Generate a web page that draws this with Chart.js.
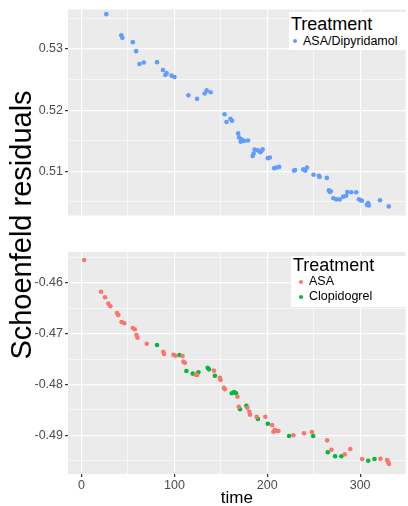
<!DOCTYPE html>
<html>
<head>
<meta charset="utf-8">
<script src="https://cdn.jsdelivr.net/npm/chart.js@4.4.1/dist/chart.umd.min.js"></script>
<style>
  body { margin: 0; background: #fff; font-family: "Liberation Sans", Arial, sans-serif; }
  #wrap { position: relative; width: 408px; height: 506px; overflow: hidden; background: #fff; }
  .abs { position: absolute; white-space: nowrap; }
  .legend { position: absolute; background: #fff; }
  .dot { position: absolute; width: 4px; height: 4px; border-radius: 50%; }
</style>
</head>
<body>
<div id="wrap">
  <canvas id="chartTop" class="abs" style="left:0;top:0" width="408" height="225"></canvas>
  <canvas id="chartBottom" class="abs" style="left:0;top:240px" width="408" height="266"></canvas>

  <div class="abs" style="left:-129px;top:208px;width:300px;height:34px;line-height:34px;font-size:29px;text-align:center;color:#000;transform:rotate(-90deg)">Schoenfeld residuals</div>

  <div class="legend" style="left:289px;top:12px;width:119px;height:38px"></div>
  <div class="abs" style="left:291px;top:15px;font-size:18px;line-height:18px;color:#000">Treatment</div>
  <div class="dot" style="left:293px;top:39px;background:#619CFF"></div>
  <div class="abs" style="left:303px;top:35px;font-size:12.5px;line-height:13px;color:#000">ASA/Dipyridamol</div>

  <div class="legend" style="left:291px;top:256px;width:117px;height:51px"></div>
  <div class="abs" style="left:293px;top:256px;font-size:18px;line-height:18px;color:#000">Treatment</div>
  <div class="dot" style="left:299px;top:280px;background:#F8766D"></div>
  <div class="abs" style="left:309px;top:275px;font-size:12.5px;line-height:13px;color:#000">ASA</div>
  <div class="dot" style="left:299px;top:295px;background:#00BA38"></div>
  <div class="abs" style="left:309px;top:290px;font-size:12.5px;line-height:13px;color:#000">Clopidogrel</div>
</div>
<script>
// ASA/Dipyridamol (top panel)
const dipTime = [26.7, 42.8, 43.9, 55.2, 58.8, 62.4, 67.0, 81.3, 87.7, 90.2, 91.6, 96.9, 100.1, 115.1, 124.4, 132.6, 134.8, 139.0,
  154.0, 156.1, 160.4, 162.1, 168.6, 169.6, 171.4, 172.2, 175.0, 179.3, 184.3, 185.3, 186.4, 189.6, 192.5, 193.2, 195.0, 200.6,
  202.8, 207.5, 210.3, 212.8, 228.9, 230.0, 238.8, 241.0, 242.8, 249.8, 255.6, 256.3, 264.2, 266.3, 267.4, 268.4, 271.2, 274.4,
  278.1, 281.9, 285.1, 286.2, 290.5, 295.8, 298.7, 300.5, 301.9, 307.3, 308.7, 309.4, 321.5, 330.8];
const dipResid = [0.5357, 0.53226, 0.53185, 0.53112, 0.52965, 0.52754, 0.5278, 0.52785, 0.52657, 0.52574, 0.52605, 0.52565, 0.52543,
  0.52242, 0.52185, 0.52272, 0.52323, 0.52292, 0.51934, 0.51805, 0.51857, 0.51826, 0.5162, 0.51554, 0.51482, 0.51523, 0.51497,
  0.51503, 0.51251, 0.51292, 0.51354, 0.51343, 0.51312, 0.51328, 0.51358, 0.51215, 0.51226, 0.51051, 0.51062, 0.51072, 0.51011,
  0.5102, 0.51031, 0.51011, 0.51062, 0.50943, 0.50928, 0.50908, 0.50892, 0.50688, 0.50662, 0.50672, 0.5056, 0.5054, 0.5054,
  0.50585, 0.506, 0.50662, 0.50657, 0.50657, 0.50543, 0.50527, 0.50518, 0.50451, 0.50482, 0.50441, 0.50527, 0.50426];

// ASA (bottom panel, red)
const asaTime = [2.8, 21.0, 25.3, 28.9, 31.0, 38.1, 39.6, 43.1, 46.0, 55.2, 57.3, 59.1, 60.2, 70.2, 88.0, 88.8, 99.0, 101.2,
  108.7, 109.7, 111.2, 123.0, 124.4, 142.6, 149.0, 149.7, 153.3, 154.3, 167.9, 169.3, 178.6, 180.7, 181.4, 188.6, 197.9, 205.3,
  206.7, 208.1, 210.3, 212.1, 228.1, 239.6, 248.1, 264.5, 269.1, 283.4, 289.4, 302.2, 321.9, 329.0, 330.1, 331.1];
const asaResid = [-0.45546, -0.46172, -0.46282, -0.46408, -0.4646, -0.46592, -0.46631, -0.46769, -0.46795, -0.46888, -0.46913,
  -0.47026, -0.47079, -0.47197, -0.47355, -0.474, -0.47414, -0.47434, -0.4744, -0.47552, -0.47572, -0.47808, -0.47815, -0.47729,
  -0.47868, -0.47913, -0.48065, -0.48097, -0.48243, -0.4844, -0.4846, -0.48538, -0.48598, -0.48637, -0.48637, -0.48801, -0.48933,
  -0.48899, -0.48919, -0.48919, -0.49004, -0.48965, -0.48939, -0.49103, -0.49288, -0.49379, -0.49274, -0.49471, -0.49465,
  -0.49491, -0.49525, -0.4957];

// Clopidogrel (bottom panel, green)
const clopTime = [81.3, 105.5, 112.9, 119.8, 125.8, 135.8, 137.2, 143.6, 161.8, 164.3, 166.4, 170.7, 177.5, 190.0, 200.6,
  223.5, 249.5, 265.2, 273.1, 279.8, 308.7, 315.5];
const clopResid = [-0.47223, -0.4742, -0.47736, -0.47788, -0.47762, -0.47671, -0.47703, -0.47828, -0.48176, -0.4815, -0.48176,
  -0.48491, -0.4842, -0.48682, -0.48775, -0.49018, -0.49018, -0.49339, -0.49418, -0.49418, -0.49505, -0.49471];

// ticks (major ones get labels, the rest are minor grid lines)
const xTicks = [0, 50, 100, 150, 200, 250, 300];
const topTicks = [0.505, 0.51, 0.515, 0.52, 0.525, 0.53, 0.535];
const bottomTicks = [-0.455, -0.46, -0.465, -0.47, -0.475, -0.48, -0.485, -0.49, -0.495];

const xMin = -14.6, xMax = 349.1;

function pts(xs, ys) {
  return xs.map((x, i) => ({ x: x, y: ys[i] }));
}

function isMajor(v, step) {
  const r = v / step;
  return Math.abs(r - Math.round(r)) < 1e-6;
}

// grey panel background like ggplot
const panelBg = {
  id: "panelBg",
  beforeDraw(chart) {
    const a = chart.chartArea;
    const ctx = chart.ctx;
    ctx.save();
    ctx.fillStyle = "#EBEBEB";
    ctx.fillRect(a.left, a.top, a.right - a.left, a.bottom - a.top);
    ctx.restore();
  }
};

const tickFont = { family: "'Liberation Sans', Arial, sans-serif", size: 12.5 };

function gridFor(step) {
  return {
    color: "#FFFFFF",
    lineWidth: ctx => (ctx.tick && isMajor(ctx.tick.value, step)) ? 1.2 : 0.6,
    tickColor: ctx => (ctx.tick && isMajor(ctx.tick.value, step)) ? "#333333" : "rgba(0,0,0,0)",
    tickLength: 3,
    drawTicks: true
  };
}

function yScale(ticks, min, max) {
  return {
    type: "linear",
    min: min,
    max: max,
    afterBuildTicks: s => { s.ticks = ticks.map(v => ({ value: v })); },
    afterFit: s => { s.width = 68; },
    border: { display: false },
    grid: gridFor(0.01),
    ticks: {
      autoSkip: false,
      color: "#4D4D4D",
      font: tickFont,
      padding: 2,
      callback: v => isMajor(v, 0.01) ? v.toFixed(2) : ""
    }
  };
}

function xScale(showLabels) {
  return {
    type: "linear",
    min: xMin,
    max: xMax,
    afterBuildTicks: s => { s.ticks = xTicks.map(v => ({ value: v })); },
    afterFit: s => { s.height = showLabels ? 32 : 0; },
    border: { display: false },
    grid: Object.assign(gridFor(100), showLabels ? {} : { drawTicks: false }),
    ticks: {
      display: showLabels,
      autoSkip: false,
      maxRotation: 0,
      color: "#4D4D4D",
      font: tickFont,
      padding: 1,
      callback: v => isMajor(v, 100) ? String(v) : ""
    },
    title: {
      display: showLabels,
      text: "time",
      color: "#000",
      font: { family: "'Liberation Sans', Arial, sans-serif", size: 17 },
      padding: { top: 0, bottom: -3 }
    }
  };
}

const common = {
  responsive: false,
  animation: false,
  plugins: { legend: { display: false }, tooltip: { enabled: false } },
  elements: { point: { radius: 2.3, borderWidth: 0, hoverRadius: 2.3 } }
};

new Chart(document.getElementById("chartTop"), {
  type: "scatter",
  data: {
    datasets: [
      { label: "ASA/Dipyridamol", data: pts(dipTime, dipResid), backgroundColor: "#619CFF" }
    ]
  },
  options: Object.assign({}, common, {
    layout: { padding: { top: 6, left: 0, right: 0, bottom: 0 } },
    scales: {
      x: xScale(false),
      y: yScale(topTicks, 0.50277, 0.53646)
    }
  }),
  plugins: [panelBg]
});

new Chart(document.getElementById("chartBottom"), {
  type: "scatter",
  data: {
    datasets: [
      { label: "ASA", data: pts(asaTime, asaResid), backgroundColor: "#F8766D" },
      { label: "Clopidogrel", data: pts(clopTime, clopResid), backgroundColor: "#00BA38" }
    ]
  },
  options: Object.assign({}, common, {
    layout: { padding: { top: 12, left: 0, right: 0, bottom: 0 } },
    scales: {
      x: xScale(true),
      y: yScale(bottomTicks, -0.49767, -0.45389)
    }
  }),
  plugins: [panelBg]
});
</script>
</body>
</html>
